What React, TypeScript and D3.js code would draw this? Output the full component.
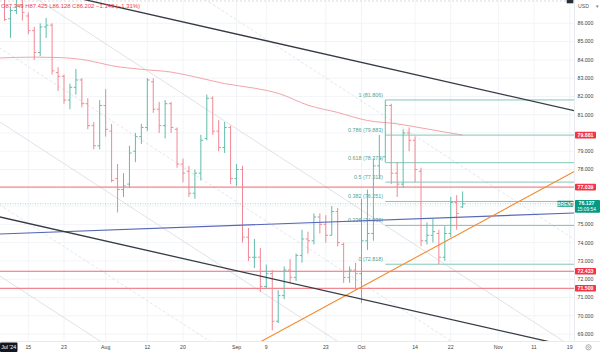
import React from "react";
import * as d3 from "d3";

const W = 600;
const H = 355;
const PLOT_R = 574;
const PLOT_B = 341;

// trading calendar (weekdays) from first visible bar
const startDate = "2024-07-08";
const endDate = "2024-11-22";

// OHLC, one per trading day from Jul 8 to Oct 24
const opens = [87.9, 87.349, 86.25, 86.7, 87.0, 86.4, 85.6, 84.4, 85.8, 85.9, 83.3, 83.1, 81.8, 82.5, 82.9, 81.6, 80.4, 79.3, 81.5, 80.1, 77.5, 76.9, 77.2, 79.0, 79.8, 80.3, 82.8, 81.3, 80.4, 81.6, 80.2, 78.3, 77.9, 76.7, 77.8, 79.7, 81.9, 80.1, 79.2, 80.3, 77.5, 78.0, 74.3, 73.2, 73.2, 71.6, 72.3, 69.7, 71.1, 72.5, 72.1, 73.3, 74.2, 74.1, 75.4, 75.0, 74.4, 75.7, 73.9, 72.1, 72.5, 72.3, 74.1, 74.5, 78.2, 78.7, 81.5, 77.8, 77.2, 80.0, 79.6, 77.9, 74.1, 74.4, 74.5, 73.2, 74.5, 76.2, 75.95];
const highs = [88.1, 87.425, 86.9, 87.45, 87.3, 86.6, 85.8, 86.0, 86.3, 86.0, 83.6, 83.2, 82.7, 83.5, 83.0, 81.9, 80.6, 81.8, 82.4, 80.5, 78.3, 77.8, 79.3, 80.0, 80.5, 83.0, 83.0, 81.7, 81.8, 81.7, 80.3, 78.6, 78.2, 78.0, 79.9, 82.1, 82.0, 80.7, 80.6, 80.4, 78.3, 78.2, 74.8, 74.2, 73.7, 72.8, 72.5, 71.4, 72.7, 73.1, 73.4, 74.7, 74.6, 75.6, 75.6, 75.5, 76.0, 75.9, 74.0, 72.7, 72.9, 76.4, 76.9, 78.6, 79.9, 81.806, 81.6, 78.4, 80.2, 80.3, 79.8, 78.1, 75.1, 75.3, 74.7, 74.9, 76.5, 76.6, 76.8];
const lows = [87.1, 86.128, 85.2, 86.5, 86.15, 85.4, 84.0, 84.2, 85.2, 83.2, 82.3, 81.6, 81.3, 82.1, 81.4, 80.2, 79.1, 79.1, 79.8, 77.3, 75.65, 76.5, 77.0, 78.4, 79.4, 80.1, 81.1, 80.0, 79.7, 80.0, 78.1, 77.3, 76.5, 76.4, 77.4, 79.6, 79.9, 79.0, 78.9, 77.2, 77.1, 74.0, 73.0, 72.6, 71.3, 71.5, 69.2, 69.6, 70.9, 71.8, 71.9, 72.9, 73.4, 73.9, 74.5, 74.0, 74.4, 73.8, 71.8, 71.8, 71.4, 70.7, 73.6, 74.1, 77.5, 78.4, 77.2, 76.5, 77.0, 79.0, 77.3, 73.8, 73.9, 74.0, 72.818, 73.0, 74.3, 74.7, 75.9];
const closes = [87.345, 86.202, 86.7, 87.0, 86.6, 85.6, 84.4, 85.8, 85.9, 83.4, 83.1, 81.8, 82.5, 82.9, 81.6, 80.4, 79.3, 81.5, 80.2, 77.4, 76.9, 77.1, 78.9, 79.8, 80.3, 82.9, 81.3, 80.4, 81.6, 80.3, 78.3, 77.8, 76.7, 77.8, 79.6, 81.9, 80.1, 79.2, 80.3, 77.5, 78.0, 74.3, 73.2, 73.2, 71.6, 72.3, 69.7, 71.1, 72.5, 72.1, 73.3, 74.2, 74.1, 75.4, 75.0, 74.4, 75.7, 74.0, 72.1, 72.5, 72.3, 74.1, 74.5, 78.2, 78.6, 81.5, 77.8, 77.2, 80.0, 79.6, 78.0, 74.1, 74.4, 74.6, 73.2, 74.5, 76.2, 75.6, 76.127];

// moving average (sampled points: bar index, value)
const maIdx = [0, 6, 10, 15, 19, 24, 29, 33, 38, 43, 47, 52, 57, 62, 67, 72, 78];
const maVals = [84.1, 84.15, 84.13, 83.97, 83.68, 83.48, 83.33, 83.07, 82.7, 82.45, 82.17, 81.52, 81.12, 80.68, 80.5, 80.22, 79.881];

const tickDates = ["2024-07-15", "2024-07-23", "2024-08-01", "2024-08-12", "2024-08-20", "2024-09-02", "2024-09-09", "2024-09-23", "2024-10-01", "2024-10-14", "2024-10-22", "2024-11-01", "2024-11-11", "2024-11-19"];
const tickLabels = ["15", "23", "Aug", "12", "20", "Sep", "9", "23", "Oct", "14", "22", "Nov", "11", "19"];

const gridPrices = [69, 70, 71, 72, 73, 74, 75, 76, 77, 78, 79, 80, 81, 82, 83, 84, 85, 86];
const priceLabels = [86, 85, 84, 83, 82, 81, 79, 78, 75, 74, 73, 72, 71, 70, 69];

const fibRatios = ["1", "0.786", "0.618", "0.5", "0.382", "0.236", "0"];
const fibPrices = [81.806, 79.883, 78.373, 77.312, 76.251, 74.939, 72.818];
const fibStartIdx = 65;

const redLevels = [77.039, 72.433, 71.5];
const maLast = 79.881;
const lastPrice = 76.127;
const topLevel = 87.22;

// drawn trend lines: [idx1, price1, idx2, price2]
const blackLines = [[27, 86.37, 69, 83.27], [0, 75.42, 84, 69.21]];
const blueLine = [0, 74.47, 90, 75.54];
const orangeLine = [44, 68.57, 90, 76.7];
const greySolid = [[0, 88.69, 90, 69.65], [0, 80.65, 90, 61.61], [0, 72.22, 90, 53.19]];
const greyDashed = [[0, 94.65, 90, 75.61], [0, 84.69, 90, 65.66], [0, 76.11, 90, 57.07]];

const UP = "#62bcac";
const DOWN = "#f08893";
const RED = "#f23645";
const GREEN = "#089981";
const FONT = "'Liberation Sans', Arial, sans-serif";

export default function App() {
  const fmt = d3.utcFormat("%Y-%m-%d");
  const days = d3.utcDay
    .range(new Date(startDate + "T00:00:00Z"), new Date(endDate + "T00:00:00Z"))
    .filter((d) => d.getUTCDay() !== 0 && d.getUTCDay() !== 6)
    .map(fmt);

  const x = d3.scaleLinear().domain([0, 100]).range([-1.45, -1.45 + 595]);
  const y = d3.scaleLinear().domain([69, 86]).range([334, 23.3]);

  const ext = (l: number[]) => {
    const x1 = x(l[0]), y1 = y(l[1]), x2 = x(l[2]), y2 = y(l[3]);
    const s = (y2 - y1) / (x2 - x1);
    const xa = -5, xb = PLOT_R + 5;
    return { x1: xa, y1: y1 + s * (xa - x1), x2: xb, y2: y1 + s * (xb - x1) };
  };

  const maLine = d3
    .line<number>()
    .x((d, i) => x(maIdx[i]))
    .y((d) => y(d))
    .curve(d3.curveMonotoneX)(maVals) as string;

  const fibX = x(fibStartIdx);

  const badge = (v: number, key: string) => {
    const yc = y(v);
    return (
      <g key={key}>
        <rect x={575} y={yc - 3.3} width={21} height={6.6} fill={RED} rx={0.8} />
        <text x={585.5} y={yc + 1.9} fill="#fff" fontSize={5.2} fontWeight="bold" textAnchor="middle" fontFamily={FONT}>
          {v.toFixed(3)}
        </text>
      </g>
    );
  };

  const yl = y(lastPrice);

  return (
    <svg width={W} height={H} style={{ position: "absolute", left: 0, top: 0, background: "#fff" }}>
      <defs>
        <clipPath id="plot">
          <rect x={0} y={0} width={PLOT_R} height={PLOT_B} />
        </clipPath>
      </defs>
      <rect x={0} y={0} width={W} height={H} fill="#fff" />
      <g clipPath="url(#plot)">
        {gridPrices.map((p) => (
          <line key={"gh" + p} x1={0} x2={PLOT_R} y1={y(p)} y2={y(p)} stroke="#eef1f5" strokeWidth={0.8} />
        ))}
        {tickDates.map((d) => {
          const xx = x(days.indexOf(d));
          return <line key={"gv" + d} x1={xx} x2={xx} y1={0} y2={PLOT_B} stroke="#eef1f5" strokeWidth={0.8} />;
        })}
        <line x1={0} x2={PLOT_R} y1={y(topLevel)} y2={y(topLevel)} stroke="#c9ccd3" strokeWidth={0.7} strokeDasharray="2 2" />

        {greySolid.map((l, i) => {
          const e = ext(l);
          return <line key={"gs" + i} {...e} stroke="#d3d5da" strokeWidth={0.7} />;
        })}
        {greyDashed.map((l, i) => {
          const e = ext(l);
          return <line key={"gd" + i} {...e} stroke="#d9dbe0" strokeWidth={0.7} strokeDasharray="3 2" />;
        })}

        <path d={maLine} fill="none" stroke="#f3a4aa" strokeWidth={1} />

        {redLevels.map((p) => (
          <line key={"rl" + p} x1={0} x2={PLOT_R} y1={y(p)} y2={y(p)} stroke="#f06a74" strokeWidth={1} />
        ))}

        <line x1={0} x2={PLOT_R} y1={yl} y2={yl} stroke="#8fd0c2" strokeWidth={0.8} strokeDasharray="1 1.5" />

        {fibPrices.map((p, i) => (
          <g key={"fib" + i}>
            <line x1={fibX} x2={PLOT_R} y1={y(p)} y2={y(p)} stroke="#85c6b7" strokeWidth={1} />
            <text x={383} y={y(p) - 3} fill="#4fa594" fontSize={5.4} textAnchor="end" fontFamily={FONT}>
              {fibRatios[i]} ({p.toFixed(3)})
            </text>
          </g>
        ))}

        {opens.map((o, i) => {
          const c = closes[i];
          const col = c >= o ? UP : DOWN;
          const cx = x(i);
          return (
            <g key={"b" + i} stroke={col} strokeWidth={1}>
              <line x1={cx} x2={cx} y1={y(highs[i])} y2={y(lows[i])} />
              <line x1={cx - 2.2} x2={cx} y1={y(o)} y2={y(o)} />
              <line x1={cx} x2={cx + 2.2} y1={y(c)} y2={y(c)} />
            </g>
          );
        })}

        <line {...ext(blueLine)} stroke="#5567b8" strokeWidth={1.1} />
        <line {...ext(orangeLine)} stroke="#f28a2e" strokeWidth={1.1} />
        {blackLines.map((l, i) => (
          <line key={"bl" + i} {...ext(l)} stroke="#363a45" strokeWidth={1.3} />
        ))}
      </g>

      <line x1={PLOT_R + 0.5} x2={PLOT_R + 0.5} y1={0} y2={PLOT_B} stroke="#e3e5ea" strokeWidth={0.8} />
      <line x1={0} x2={W} y1={PLOT_B + 0.5} y2={PLOT_B + 0.5} stroke="#e3e5ea" strokeWidth={0.8} />

      <text x={1} y={7.8} fontSize={5.9} fontFamily={FONT}>
        <tspan fill="#e0525d">O</tspan>
        <tspan fill={RED}>87.349 </tspan>
        <tspan fill="#e0525d">H</tspan>
        <tspan fill={RED}>87.425 </tspan>
        <tspan fill="#e0525d">L</tspan>
        <tspan fill={RED}>86.128 </tspan>
        <tspan fill="#e0525d">C</tspan>
        <tspan fill={RED}>86.202 −1.143 (−1.31%)</tspan>
      </text>

      <rect x={566.7} y={0} width={6.6} height={3.3} fill="#2a2e39" />
      <text x={578} y={7.6} fontSize={5.2} fill="#555" fontFamily={FONT}>USD</text>
      <text x={596} y={7.6} fontSize={4.5} fill="#777" fontFamily={FONT}>▾</text>
      {priceLabels.map((p) => (
        <text key={"pl" + p} x={577.5} y={y(p) + 1.9} fontSize={5.2} fill="#444" fontFamily={FONT}>
          {p.toFixed(3)}
        </text>
      ))}
      {badge(maLast, "ma")}
      {redLevels.map((p) => badge(p, "rb" + p))}
      <rect x={557.3} y={yl - 2.9} width={16} height={5.8} fill={GREEN} rx={0.6} />
      <text x={565.3} y={yl + 1.8} fontSize={4.8} fill="#fff" fontWeight="bold" textAnchor="middle" fontFamily={FONT}>BRENT</text>
      <rect x={575} y={yl - 3.7} width={25} height={12.7} fill={GREEN} rx={0.8} />
      <text x={586.5} y={yl + 1.7} fontSize={5.2} fill="#fff" fontWeight="bold" textAnchor="middle" fontFamily={FONT}>{lastPrice.toFixed(3)}</text>
      <text x={586.5} y={yl + 7.4} fontSize={4.8} fill="#fff" textAnchor="middle" fontFamily={FONT}>15:09:54</text>

      {tickDates.map((d, i) => (
        <text key={"tl" + d} x={x(days.indexOf(d))} y={349.3} fontSize={5.2} fill="#444" textAnchor="middle" fontFamily={FONT}>
          {tickLabels[i]}
        </text>
      ))}
      <rect x={0} y={342.5} width={17.5} height={9.5} fill="#131722" rx={1} />
      <text x={8.7} y={349.3} fontSize={5.2} fill="#fff" textAnchor="middle" fontFamily={FONT}>Jul '24</text>
      <circle cx={588.5} cy={347.3} r={2.6} fill="none" stroke="#777" strokeWidth={0.6} />
      <circle cx={588.5} cy={347.3} r={0.9} fill="none" stroke="#777" strokeWidth={0.5} />
    </svg>
  );
}
